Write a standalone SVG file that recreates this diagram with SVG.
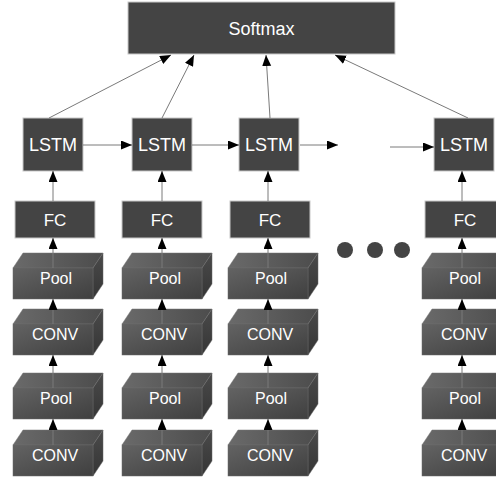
<svg xmlns="http://www.w3.org/2000/svg" xmlns:xlink="http://www.w3.org/1999/xlink" width="496" height="477" viewBox="0 0 496 477">
  <style>
    .flat { fill: #444444; stroke: #c8c8c8; stroke-width: 1; }
    .lbl { font-family: "Liberation Sans", Arial, sans-serif; fill: #ffffff; text-anchor: middle; }
    .big { font-size: 18px; }
    .mid { font-size: 17px; }
    .small { font-size: 16px; }
    .conn { fill: none; stroke: #7a7a7a; stroke-width: 1; }
    .dot { fill: #444444; }
  </style>
  <defs>
    <marker id="arrow" markerUnits="userSpaceOnUse" markerWidth="12" markerHeight="10" refX="11" refY="4.5" orient="auto">
      <path d="M0,0 L11,4.5 L0,9 z" fill="#000000"/>
    </marker>
    <linearGradient id="gFront" x1="0" y1="0" x2="1" y2="1">
      <stop offset="0" stop-color="#636363"/>
      <stop offset="1" stop-color="#3f3f3f"/>
    </linearGradient>
    <linearGradient id="gTop" x1="0" y1="0" x2="1" y2="0">
      <stop offset="0" stop-color="#6a6a6a"/>
      <stop offset="1" stop-color="#4c4c4c"/>
    </linearGradient>
    <linearGradient id="gSide" x1="0" y1="0" x2="0" y2="1">
      <stop offset="0" stop-color="#4a4a4a"/>
      <stop offset="1" stop-color="#353535"/>
    </linearGradient>
    <!-- 3D block: front face 80x31, depth offset (10,-15) -->
    <g id="cube">
      <polygon points="0,15 10,0 90,0 80,15" fill="url(#gTop)" stroke="#777" stroke-width="0.5"/>
      <polygon points="80,15 90,0 90,31 80,46" fill="url(#gSide)" stroke="#666" stroke-width="0.5"/>
      <rect x="0" y="15" width="80" height="31" fill="url(#gFront)" stroke="#6a6a6a" stroke-width="0.5"/>
    </g>
  </defs>

  <rect width="496" height="477" fill="#ffffff"/>

  <!-- output layer -->
  <g id="softmax">
    <rect class="flat" x="128" y="2" width="267" height="52"/>
    <text class="lbl big" x="261.5" y="35">Softmax</text>
  </g>

  <!-- recurrent layer -->
  <g id="lstm1"><rect class="flat" x="23" y="118" width="60" height="53"/><text class="lbl big" x="53" y="151">LSTM</text></g>
  <g id="lstm2"><rect class="flat" x="132" y="118" width="60" height="53"/><text class="lbl big" x="162" y="151">LSTM</text></g>
  <g id="lstm3"><rect class="flat" x="239" y="118" width="60" height="53"/><text class="lbl big" x="269" y="151">LSTM</text></g>
  <g id="lstm4"><rect class="flat" x="434" y="118" width="60" height="53"/><text class="lbl big" x="464" y="151">LSTM</text></g>

  <!-- fully connected layer -->
  <g id="fc1"><rect class="flat" x="15" y="201" width="80" height="37"/><text class="lbl mid" x="55" y="226">FC</text></g>
  <g id="fc2"><rect class="flat" x="122" y="201" width="80" height="37"/><text class="lbl mid" x="162" y="226">FC</text></g>
  <g id="fc3"><rect class="flat" x="230" y="201" width="80" height="37"/><text class="lbl mid" x="270" y="226">FC</text></g>
  <g id="fc4"><rect class="flat" x="425" y="201" width="80" height="37"/><text class="lbl mid" x="465" y="226">FC</text></g>

  <!-- column 1 -->
  <g id="pool1a"><use xlink:href="#cube" href="#cube" x="13" y="253"/><text class="lbl small" x="56" y="284">Pool</text></g>
  <g id="conv1a"><use xlink:href="#cube" href="#cube" x="13" y="309"/><text class="lbl small" x="55" y="340">CONV</text></g>
  <g id="pool1b"><use xlink:href="#cube" href="#cube" x="13" y="373"/><text class="lbl small" x="56" y="404">Pool</text></g>
  <g id="conv1b"><use xlink:href="#cube" href="#cube" x="13" y="430"/><text class="lbl small" x="55" y="461">CONV</text></g>

  <!-- column 2 -->
  <g id="pool2a"><use xlink:href="#cube" href="#cube" x="122" y="253"/><text class="lbl small" x="165" y="284">Pool</text></g>
  <g id="conv2a"><use xlink:href="#cube" href="#cube" x="122" y="309"/><text class="lbl small" x="164" y="340">CONV</text></g>
  <g id="pool2b"><use xlink:href="#cube" href="#cube" x="122" y="373"/><text class="lbl small" x="165" y="404">Pool</text></g>
  <g id="conv2b"><use xlink:href="#cube" href="#cube" x="122" y="430"/><text class="lbl small" x="164" y="461">CONV</text></g>

  <!-- column 3 -->
  <g id="pool3a"><use xlink:href="#cube" href="#cube" x="228" y="253"/><text class="lbl small" x="271" y="284">Pool</text></g>
  <g id="conv3a"><use xlink:href="#cube" href="#cube" x="228" y="309"/><text class="lbl small" x="270" y="340">CONV</text></g>
  <g id="pool3b"><use xlink:href="#cube" href="#cube" x="228" y="373"/><text class="lbl small" x="271" y="404">Pool</text></g>
  <g id="conv3b"><use xlink:href="#cube" href="#cube" x="228" y="430"/><text class="lbl small" x="270" y="461">CONV</text></g>

  <!-- column 4 -->
  <g id="pool4a"><use xlink:href="#cube" href="#cube" x="422" y="253"/><text class="lbl small" x="465" y="284">Pool</text></g>
  <g id="conv4a"><use xlink:href="#cube" href="#cube" x="422" y="309"/><text class="lbl small" x="464" y="340">CONV</text></g>
  <g id="pool4b"><use xlink:href="#cube" href="#cube" x="422" y="373"/><text class="lbl small" x="465" y="404">Pool</text></g>
  <g id="conv4b"><use xlink:href="#cube" href="#cube" x="422" y="430"/><text class="lbl small" x="464" y="461">CONV</text></g>

  <!-- ellipsis between columns -->
  <g id="ellipsis">
    <circle class="dot" cx="345" cy="250" r="8"/>
    <circle class="dot" cx="375" cy="250" r="8"/>
    <circle class="dot" cx="402" cy="250" r="8"/>
  </g>

  <g id="connectors" class="conn" marker-end="url(#arrow)">
    <!-- LSTM to softmax -->
    <line x1="49" y1="118" x2="171" y2="55"/>
    <line x1="162" y1="118" x2="194" y2="55"/>
    <line x1="270" y1="118" x2="266" y2="55"/>
    <line x1="468" y1="118" x2="335" y2="55"/>
    <!-- recurrent links -->
    <line x1="83" y1="145" x2="132" y2="145"/>
    <line x1="192" y1="145" x2="239" y2="145"/>
    <line x1="300" y1="145" x2="338" y2="145"/>
    <line x1="390" y1="147" x2="434" y2="147"/>
    <!-- column 1 -->
    <line x1="53" y1="201" x2="53" y2="171"/>
    <line x1="53" y1="268" x2="53" y2="238"/>
    <line x1="53" y1="324" x2="53" y2="299"/>
    <line x1="53" y1="388" x2="53" y2="355"/>
    <line x1="53" y1="445" x2="53" y2="419"/>
    <!-- column 2 -->
    <line x1="162" y1="201" x2="162" y2="171"/>
    <line x1="162" y1="268" x2="162" y2="238"/>
    <line x1="162" y1="324" x2="162" y2="299"/>
    <line x1="162" y1="388" x2="162" y2="355"/>
    <line x1="162" y1="445" x2="162" y2="419"/>
    <!-- column 3 -->
    <line x1="268" y1="201" x2="268" y2="171"/>
    <line x1="268" y1="268" x2="268" y2="238"/>
    <line x1="268" y1="324" x2="268" y2="299"/>
    <line x1="268" y1="388" x2="268" y2="355"/>
    <line x1="268" y1="445" x2="268" y2="419"/>
    <!-- column 4 -->
    <line x1="462" y1="201" x2="462" y2="171"/>
    <line x1="462" y1="268" x2="462" y2="238"/>
    <line x1="462" y1="324" x2="462" y2="299"/>
    <line x1="462" y1="388" x2="462" y2="355"/>
    <line x1="462" y1="445" x2="462" y2="419"/>
  </g>
</svg>
